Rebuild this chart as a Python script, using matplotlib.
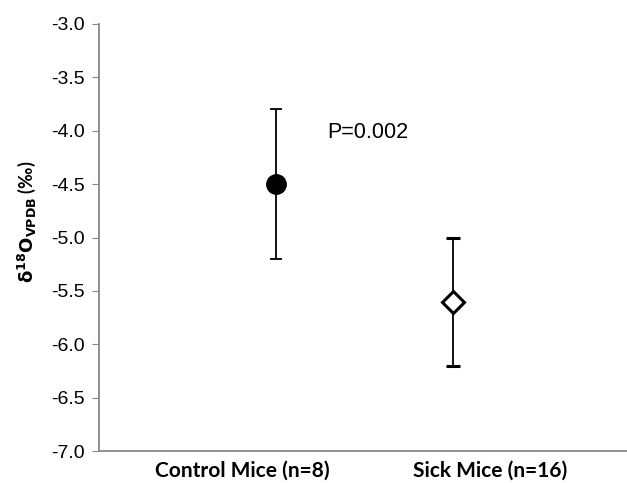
import matplotlib.pyplot as plt

groups = ['Control Mice (n=8)', 'Sick Mice (n=16)']
means = [-4.5, -5.6]
upper = [-3.8, -5.0]
lower = [-5.2, -6.2]
p_text = 'P=0.002'

fig = plt.figure(figsize=(6.27, 4.83), dpi=100)
ax = fig.add_axes([99 / 627, 1 - 451 / 483, 528 / 627, 427 / 483])

x = [1, 2]
label_pos = [0.81, 2.21]
err_lo = [m - l for m, l in zip(means, lower)]
err_hi = [u - m for m, u in zip(means, upper)]

# control: filled circle
ax.errorbar(x[0], means[0], yerr=[[err_lo[0]], [err_hi[0]]], fmt='o', color='black',
            markersize=14, markerfacecolor='black', ecolor='black', elinewidth=1.3,
            capsize=4, capthick=1.3, zorder=3)
# sick: open diamond
ax.errorbar(x[1], means[1], yerr=[[err_lo[1]], [err_hi[1]]], fmt='D', color='black',
            markersize=11, markerfacecolor='white', markeredgewidth=2.2, ecolor='black',
            elinewidth=1.3, capsize=5, capthick=1.3, zorder=3)

ax.text(1.29, -4.02, p_text, fontsize=15.5, family='Liberation Sans', va='center', ha='left')

ax.set_xlim(0, 2.98)
ax.set_ylim(-7.0, -3.0)
ax.set_yticks([-7.0, -6.5, -6.0, -5.5, -5.0, -4.5, -4.0, -3.5, -3.0])
ax.set_yticklabels([f'{v:.1f}' for v in ax.get_yticks()], family='Liberation Sans', fontsize=14)
ax.set_xticks(label_pos)
ax.set_xticklabels(groups, family='Lato', fontweight='bold', fontsize=15)
ax.tick_params(axis='x', length=0, pad=7)
ax.tick_params(axis='y', length=5, color='#888888', direction='out', pad=5)

for s in ['top', 'right']:
    ax.spines[s].set_visible(False)
for s in ['left', 'bottom']:
    ax.spines[s].set_color('#888888')
    ax.spines[s].set_linewidth(1.3)

ax.set_ylabel(r'$\mathbf{\delta^{18}O_{VPDB}}$ (‰)', family='Lato', fontweight='bold', fontsize=13)
ax.yaxis.set_label_coords(-61 / 528, (451 - 222) / 427)

fig.savefig('out.png', dpi=100)
